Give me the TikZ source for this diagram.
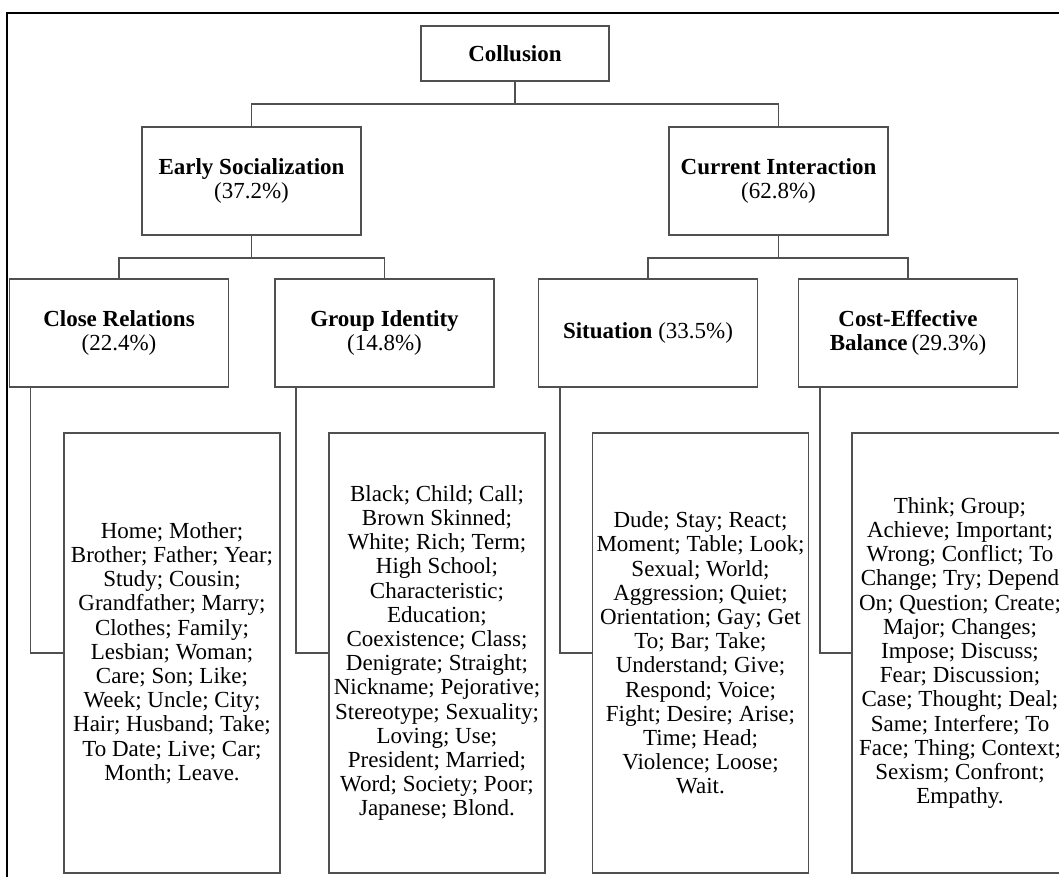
\documentclass[tikz,border=0pt]{standalone}
\usepackage{fontspec}
\setmainfont{Liberation Serif}
\usetikzlibrary{shapes,arrows,positioning}
\definecolor{boxgray}{RGB}{80,80,80}

\begin{document}
\begin{tikzpicture}[x=1bp, y=-1bp, font=\fontsize{23bp}{24.2bp}\selectfont,
		box/.style={draw=boxgray, line width=1.6bp, fill=white, align=center, inner sep=1bp},
		topbox/.style={box, minimum width=188bp, minimum height=55bp},
		midbox/.style={box, minimum width=219bp, minimum height=108bp},
		subbox/.style={box, minimum width=219bp, minimum height=108bp},
		wordbox/.style={box, minimum width=216bp, minimum height=440bp},
		conn/.style={draw=boxgray, line width=1.6bp}]
				\useasboundingbox (0,0) rectangle (1059,877);
				\clip (0,0) rectangle (1059,877);
				\fill [white] (0,0) rectangle (1059,877);
				\draw [line width=2.2bp, draw=black] (7,13) rectangle (1090,900);
				% top level
				\node [topbox] (col) at (515,53.5) {\textbf{Collusion}};
				\node [midbox] (es) at (251.5,181) {\textbf{Early Socialization}\\(37.2\%)};
				\node [midbox] (ci) at (778.5,181) {\textbf{Current Interaction}\\(62.8\%)};
				% categories
				\node [subbox] (cr) at (119,333) {\textbf{Close Relations}\\(22.4\%)};
				\node [subbox] (gi) at (384.5,333) {\textbf{Group Identity}\\(14.8\%)};
				\node [subbox] (sit) at (648,333) {\textbf{Situation} (33.5\%)};
				\node [subbox] (ceb) at (908,333) {\textbf{Cost-Effective}\\\textbf{Balance}\,(29.3\%)};
				% word lists
				\node [wordbox] (crw) at (172,653) {Home; Mother;\\Brother; Father; Year;\\Study; Cousin;\\Grandfather; Marry;\\Clothes; Family;\\Lesbian; Woman;\\Care; Son; Like;\\Week; Uncle; City;\\Hair; Husband; Take;\\To Date; Live; Car;\\Month; Leave.};
				\node [wordbox] (giw) at (437,653) {Black; Child; Call;\\Brown Skinned;\\White; Rich; Term;\\High School;\\Characteristic;\\Education;\\Coexistence; Class;\\Denigrate; Straight;\\Nickname; Pejorative;\\Stereotype; Sexuality;\\Loving; Use;\\President; Married;\\Word; Society; Poor;\\Japanese; Blond.};
				\node [wordbox] (sitw) at (700.5,653) {Dude; Stay; React;\\Moment; Table; Look;\\Sexual; World;\\Aggression; Quiet;\\Orientation; Gay; Get\\To; Bar; Take;\\Understand; Give;\\Respond; Voice;\\Fight; Desire; Arise;\\Time; Head;\\Violence; Loose;\\Wait.};
				\node [wordbox] (cebw) at (960,653) {Think; Group;\\Achieve; Important;\\Wrong; Conflict; To\\Change; Try; Depend\\On; Question; Create;\\Major; Changes;\\Impose; Discuss;\\Fear; Discussion;\\Case; Thought; Deal;\\Same; Interfere; To\\Face; Thing; Context;\\Sexism; Confront;\\Empathy.};
				% connectors
				\draw [conn] (col.south) -- ++(0,22) -| (es.north);
				\draw [conn] (col.south) -- ++(0,22) -| (ci.north);
				\draw [conn] (es.south) -- ++(0,22) -| (cr.north);
				\draw [conn] (es.south) -- ++(0,22) -| (gi.north);
				\draw [conn] (ci.south) -- ++(0,22) -| (sit.north);
				\draw [conn] (ci.south) -- ++(0,22) -| (ceb.north);
				\draw [conn] ([xshift=22bp]cr.south west) |- (crw.west);
				\draw [conn] ([xshift=22bp]gi.south west) |- (giw.west);
				\draw [conn] ([xshift=22bp]sit.south west) |- (sitw.west);
				\draw [conn] ([xshift=22bp]ceb.south west) |- (cebw.west);
				\end{tikzpicture}
\end{document}
